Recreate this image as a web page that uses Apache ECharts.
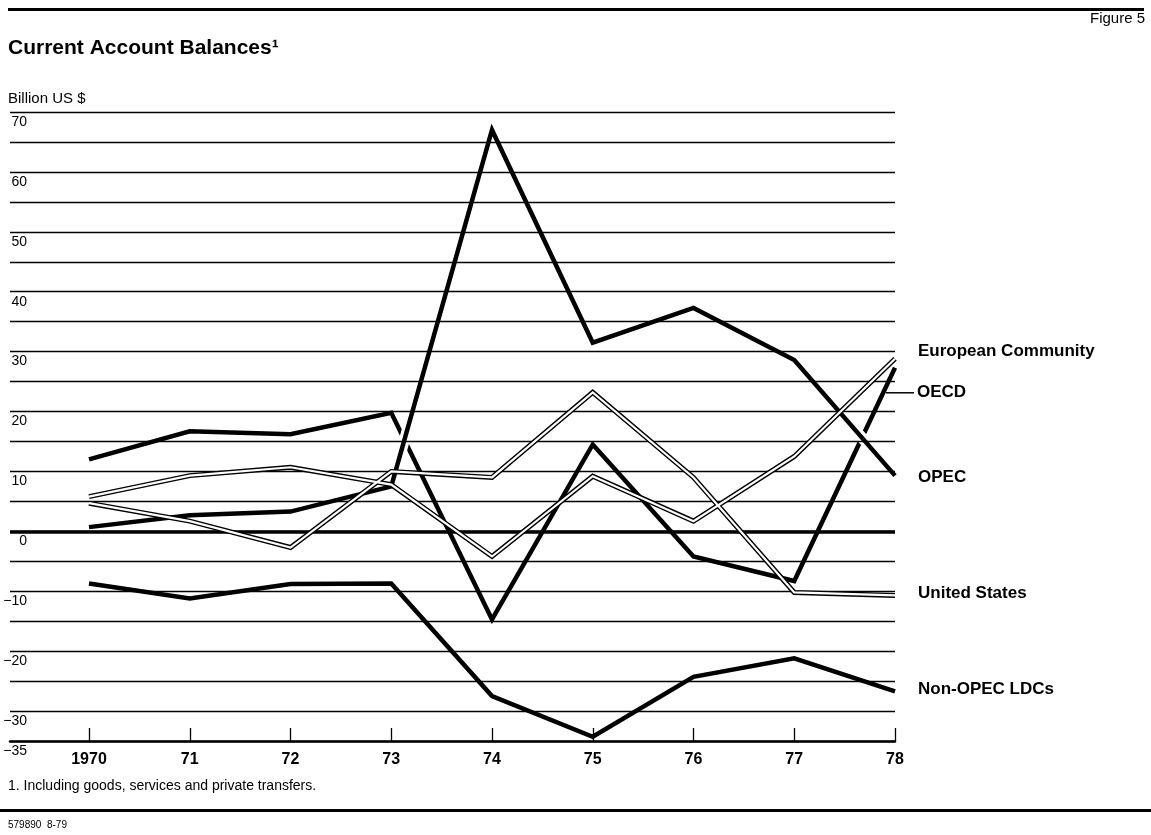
<!DOCTYPE html>
<html>
<head>
<meta charset="utf-8">
<script src="https://cdn.jsdelivr.net/npm/echarts@6/dist/echarts.min.js"></script>
<style>
  html, body { margin: 0; padding: 0; background: #fff; }
  #chart { width: 1151px; height: 835px; }
</style>
</head>
<body>
<div id="chart"></div>
<script>
// ---- data (Billion US $) ----
const years = ['1970', '71', '72', '73', '74', '75', '76', '77', '78'];
const opec = [0.7, 2.7, 3.3, 7.5, 67.0, 31.5, 37.3, 28.6, 9.3];
const oecd = [12.0, 16.7, 16.2, 19.8, -14.7, 14.5, -4.2, -8.3, 27.3];
const europeanCommunity = [5.8, 9.3, 10.7, 7.8, -4.2, 9.2, 1.7, 12.5, 28.8];
const unitedStates = [4.7, 1.7, -2.7, 10.0, 9.0, 23.2, 9.0, -10.2, -10.7];
const nonOpecLDCs = [-8.7, -11.2, -8.8, -8.7, -27.5, -34.3, -24.3, -21.2, -26.7];
const yMin = -35, yMax = 70, yStep = 5;

const FONT = '"Liberation Sans", Arial, Helvetica, sans-serif';
const chart = echarts.init(document.getElementById('chart'), null, { renderer: 'canvas' });

function thick(name, data, label, offset, z, extra) {
  return Object.assign({
    name, type: 'line', xAxisIndex: 1, yAxisIndex: 1, data,
    symbol: 'none', animation: false, z: z,
    lineStyle: { color: '#000', width: 4.5, join: 'miter' },
    endLabel: {
      show: true, formatter: label, offset, distance: 5,
      color: '#000', fontFamily: FONT, fontWeight: 'bold', fontSize: 17
    }
  }, extra || {});
}
function doubleLine(name, data, label, offset) {
  return [
    {
      name, type: 'line', xAxisIndex: 1, yAxisIndex: 1, data,
      symbol: 'none', animation: false, z: 5,
      lineStyle: { color: '#000', width: 5, join: 'miter' },
      endLabel: {
        show: true, formatter: label, offset, distance: 5,
        color: '#000', fontFamily: FONT, fontWeight: 'bold', fontSize: 17
      }
    },
    {
      name: name + ' inner', type: 'line', xAxisIndex: 1, yAxisIndex: 1, data,
      symbol: 'none', animation: false, z: 5.5,
      lineStyle: { color: '#fff', width: 2.2, join: 'miter' }
    }
  ];
}

const option = {
  backgroundColor: '#fff',
  animation: false,
  textStyle: { fontFamily: FONT },
  grid: [
    { left: 10, right: 256, top: 112, bottom: 94 },
    { left: 89, right: 256, top: 112, bottom: 94 }
  ],
  xAxis: [
    {
      gridIndex: 0, type: 'value', min: 0, max: 1, z: 3,
      axisLine: { show: true, onZero: false, lineStyle: { color: '#000', width: 2.5 } },
      axisTick: { show: false }, axisLabel: { show: false }, splitLine: { show: false }
    },
    {
      gridIndex: 1, type: 'category', boundaryGap: false, data: years,
      axisLine: { show: false, onZero: false },
      axisTick: { show: true, inside: true, length: 13, lineStyle: { color: '#000', width: 1.3 } },
      axisLabel: { color: '#000', fontFamily: FONT, fontWeight: 'bold', fontSize: 16, margin: 11 },
      splitLine: { show: false }
    }
  ],
  yAxis: [
    {
      gridIndex: 0, type: 'value', min: yMin, max: yMax, interval: yStep, z: 3,
      axisLine: { show: false }, axisTick: { show: false },
      splitLine: { show: true, lineStyle: { color: '#000', width: 1.4 } },
      axisLabel: {
        color: '#000', fontFamily: FONT, fontSize: 14, margin: -17,
        verticalAlign: 'top', padding: [3, 0, 0, 0],
        formatter: v => (v % 10 === 0 || v === yMin) ? (v < 0 ? '\u2212' + Math.abs(v) : String(v)) : ''
      }
    },
    {
      gridIndex: 1, type: 'value', min: yMin, max: yMax, interval: yStep, show: false
    }
  ],
  graphic: [
    { type: 'rect', shape: { x: 8, y: 8, width: 1136, height: 3 }, style: { fill: '#000' } },
    { type: 'rect', shape: { x: 0, y: 809, width: 1151, height: 3 }, style: { fill: '#000' } },
    { type: 'text', left: 8, top: 38, style: { text: 'Current Account Balances\u00B9', fill: '#000', font: 'bold 21px ' + FONT } },
    { type: 'text', right: 6, top: 11, style: { text: 'Figure 5', fill: '#000', font: '15px ' + FONT } },
    { type: 'text', left: 8, top: 91, style: { text: 'Billion US $', fill: '#000', font: '15px ' + FONT } },
    { type: 'text', left: 8, top: 779, style: { text: '1. Including goods, services and private transfers.', fill: '#000', font: '14px ' + FONT } },
    { type: 'text', left: 8, top: 820, style: { text: '579890  8-79', fill: '#000', font: '10px ' + FONT } }
  ],
  series: [
    {
      name: 'zero', type: 'line', xAxisIndex: 0, yAxisIndex: 0, data: [],
      symbol: 'none', animation: false, z: 3,
      markLine: {
        silent: true, symbol: ['none', 'none'], animation: false,
        label: { show: false },
        lineStyle: { color: '#000', width: 3.5, type: 'solid' },
        data: [{ yAxis: 0 }]
      }
    },
    thick('OECD', oecd, '{l|}{t|OECD}', [-14, 25], 1, {
      endLabel: {
        show: true, formatter: '{l|}{t|OECD}', offset: [-14, 25], distance: 5,
        rich: {
          l: { width: 28, height: 1.5, backgroundColor: '#000' },
          t: { color: '#000', fontFamily: FONT, fontWeight: 'bold', fontSize: 17, padding: [0, 0, 0, 3] }
        }
      }
    }),
    {
      name: 'OPEC halo', type: 'line', xAxisIndex: 1, yAxisIndex: 1, data: opec,
      symbol: 'none', animation: false, z: 2,
      lineStyle: { color: '#fff', width: 11, join: 'miter' }
    },
    thick('OPEC', opec, 'OPEC', [18, 2], 4),
    thick('Non-OPEC LDCs', nonOpecLDCs, 'Non-OPEC LDCs', [18, -2], 4),
    ...doubleLine('European Community', europeanCommunity, 'European Community', [18, -7]),
    ...doubleLine('United States', unitedStates, 'United States', [18, -2])
  ]
};
chart.setOption(option);
</script>
</body>
</html>
